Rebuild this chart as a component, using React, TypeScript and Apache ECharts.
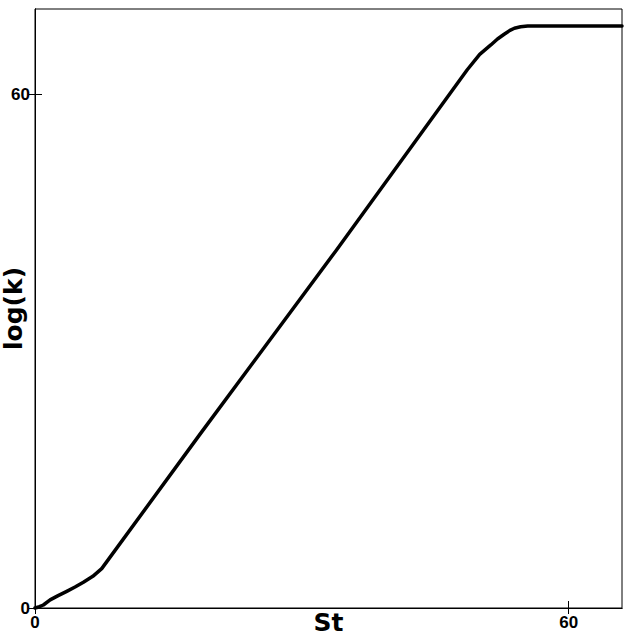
import React, { useEffect, useRef } from "react";
import * as echarts from "echarts";

// St values and log(k) values
const stValues: number[] = [0, 0.5, 0.94, 1.7, 2.6, 3.57, 4.5, 5.44, 6.5, 7.5, 18.58, 33.8, 48.6, 50.0, 51.25, 52.0, 52.75, 53.4, 53.9, 54.6, 55.4, 60.0, 66.0];
const logkValues: number[] = [0, 0.15, 0.35, 0.95, 1.45, 1.95, 2.45, 3.0, 3.7, 4.6, 20.35, 41.7, 62.9, 64.7, 65.8, 66.5, 67.05, 67.5, 67.75, 67.92, 68.0, 68.0, 68.0];

const xTickValues: number[] = [0, 60];
const yTickValues: number[] = [0, 60];

const xName = "St";
const yName = "log(k)";

export default function App() {
  const ref = useRef<HTMLDivElement>(null);
  useEffect(() => {
    if (!ref.current) return;
    const chart = echarts.init(ref.current, null, { renderer: "svg" });
    const data = stValues.map((s, i) => [s, logkValues[i]]);
    const labelFont = {
      fontFamily: "'Liberation Sans Narrow', 'Arial Narrow', 'Liberation Sans', Arial, sans-serif",
      fontWeight: "bold" as const,
      fontSize: 17,
      color: "#000",
    };
    const nameFont = {
      fontFamily: "'DejaVu Sans', sans-serif",
      fontWeight: "bold" as const,
      fontSize: 25,
      color: "#000",
    };
    chart.setOption({
      animation: false,
      backgroundColor: "#fff",
      grid: {
        left: 35,
        right: 3,
        top: 9,
        bottom: 30,
        containLabel: false,
        outerBoundsMode: "none",
        show: true,
        borderColor: "#000",
        borderWidth: 1,
        backgroundColor: "transparent",
      },
      xAxis: [
        {
          type: "value",
          min: 0,
          max: 66,
          interval: 60,
          name: xName,
          nameLocation: "middle",
          nameGap: 2,
          nameMoveOverlap: false,
          nameTextStyle: { ...nameFont, verticalAlign: "top" },
          axisLine: { show: true, lineStyle: { color: "#000", width: 1 } },
          axisTick: { show: true, inside: true, length: 7, customValues: xTickValues, lineStyle: { color: "#000" } },
          axisLabel: { ...labelFont, margin: 6, customValues: xTickValues },
          splitLine: { show: false },
        },
        {
          type: "value",
          position: "top",
          min: 0,
          max: 66,
          interval: 60,
          axisLine: { show: true, lineStyle: { color: "#000", width: 1 } },
          axisTick: { show: true, inside: true, length: 6, customValues: xTickValues, lineStyle: { color: "#000" } },
          axisLabel: { show: false },
          splitLine: { show: false },
        },
      ],
      yAxis: [
        {
          type: "value",
          min: 0,
          max: 70,
          interval: 60,
          name: yName,
          nameLocation: "middle",
          nameRotate: 90,
          nameGap: 9,
          nameMoveOverlap: false,
          nameTextStyle: nameFont,
          axisLine: { show: true, lineStyle: { color: "#000", width: 1 } },
          axisTick: { show: true, inside: true, length: 7, customValues: yTickValues, lineStyle: { color: "#000" } },
          axisLabel: { ...labelFont, margin: 5, customValues: yTickValues },
          splitLine: { show: false },
        },
        {
          type: "value",
          position: "right",
          min: 0,
          max: 70,
          interval: 60,
          axisLine: { show: true, lineStyle: { color: "#000", width: 1 } },
          axisTick: { show: true, inside: true, length: 6, customValues: yTickValues, lineStyle: { color: "#000" } },
          axisLabel: { show: false },
          splitLine: { show: false },
        },
      ],
      series: [
        {
          type: "line",
          xAxisIndex: 0,
          yAxisIndex: 0,
          data,
          smooth: false,
          showSymbol: false,
          symbol: "none",
          lineStyle: { color: "#000", width: 3.5, join: "round", cap: "round" },
          clip: false,
        },
      ],
    });
    return () => chart.dispose();
  }, []);
  return <div ref={ref} style={{ width: 625, height: 638, position: "absolute", left: 0, top: 0 }} />;
}
